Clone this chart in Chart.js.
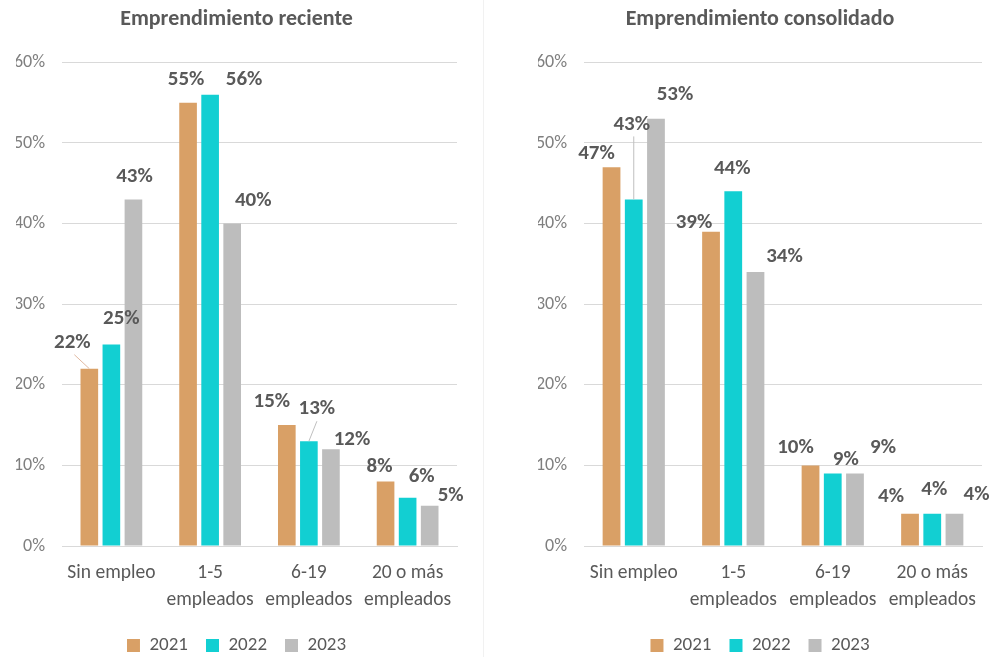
<!DOCTYPE html>
<html>
<head>
<meta charset="utf-8">
<script src="https://cdn.jsdelivr.net/npm/chart.js@4"></script>
<style>
  body { margin: 0; background: #fff; }
  .wrap { position: relative; width: 992px; height: 657px; }
  .box { position: absolute; top: 0; height: 657px; }
  #left { left: 0; width: 483px; }
  #right { left: 522px; width: 470px; }
  .sep { position: absolute; left: 483px; top: 0; width: 1px; height: 657px; background: #f1f1f1; }
</style>
</head>
<body>
<div class="wrap">
  <div class="box" id="left"><canvas id="chartLeft"></canvas></div>
  <div class="sep"></div>
  <div class="box" id="right"><canvas id="chartRight"></canvas></div>
</div>
<script>
// categories and series
var categories = ['Sin empleo', ['1-5', 'empleados'], ['6-19', 'empleados'], ['20 o más', 'empleados']];
var years = ['2021', '2022', '2023'];
var yTicks = [0, 10, 20, 30, 40, 50, 60];

var reciente2021 = [22, 55, 15, 8];
var reciente2022 = [25, 56, 13, 6];
var reciente2023 = [43, 40, 12, 5];

var consolidado2021 = [47, 39, 10, 4];
var consolidado2022 = [43, 44, 9, 4];
var consolidado2023 = [53, 34, 9, 4];

var colors = ['#D9A066', '#12CFD2', '#BDBDBD'];
var font = 'Carlito, Lato, sans-serif';

// label nudges [dx, dy, leader] relative to bar top, per series / category
var nudgeLeft = [
  [[-17, -26, 1], [-2, -23], [-15, -23], [-6, -15]],
  [[10, -26], [34, -15], [8, -32, 1], [14, -21]],
  [[1, -23], [21, -23], [21, -10], [21, -10]]
];
var nudgeRight = [
  [[-15, -13], [-17, -9], [-15, -18], [-19, -17]],
  [[-2, -75, 1], [-1, -23], [13, -14], [2, -24]],
  [[19, -24], [29, -15], [28, -26], [22, -19]]
];

var labelPlugin = {
  id: 'barLabels',
  afterDatasetsDraw: function (chart, args, opts) {
    var ctx = chart.ctx;
    ctx.save();
    ctx.font = 'bold 21px ' + font;
    ctx.fillStyle = '#595959';
    ctx.textAlign = 'center';
    ctx.textBaseline = 'middle';
    chart.data.datasets.forEach(function (ds, si) {
      var meta = chart.getDatasetMeta(si);
      meta.data.forEach(function (bar, i) {
        var n = opts.nudge[si][i];
        var lx = bar.x + n[0], ly = bar.y + n[1];
        if (n[2]) {
          ctx.strokeStyle = si === 0 ? '#E0B8A0' : '#BFBFBF';
          ctx.lineWidth = 1;
          ctx.beginPath();
          ctx.moveTo(lx + (bar.x > lx ? 2 : 0), ly + 12);
          ctx.lineTo(bar.x, bar.y);
          ctx.stroke();
        }
        ctx.fillText(ds.data[i] + '%', lx, ly);
      });
    });
    ctx.restore();
  }
};

function makeChart(id, title, s1, s2, s3, nudge, padLeft, padRight) {
  var ctx = document.getElementById(id).getContext('2d');
  return new Chart(ctx, {
    type: 'bar',
    data: {
      labels: categories,
      datasets: [
        { label: years[0], data: s1, backgroundColor: colors[0] },
        { label: years[1], data: s2, backgroundColor: colors[1] },
        { label: years[2], data: s3, backgroundColor: colors[2] }
      ]
    },
    plugins: [labelPlugin],
    options: {
      responsive: true,
      maintainAspectRatio: false,
      animation: false,
      datasets: { bar: { categoryPercentage: 0.67, barPercentage: 0.8 } },
      layout: { padding: { left: padLeft, right: padRight, top: 0, bottom: -8 } },
      plugins: {
        title: {
          display: true,
          text: title,
          color: '#595959',
          font: { family: font, size: 22, weight: 'bold' },
          padding: { top: 6, bottom: 30 }
        },
        legend: {
          position: 'bottom',
          labels: {
            color: '#595959',
            font: { family: font, size: 19 },
            boxWidth: 13,
            boxHeight: 13,
            padding: 18
          }
        },
        tooltip: { enabled: false },
        barLabels: { nudge: nudge }
      },
      scales: {
        y: {
          min: 0,
          max: 60,
          afterFit: function (scale) { scale.width = 62 - padLeft; },
          afterBuildTicks: function (scale) {
            scale.ticks = yTicks.map(function (v) { return { value: v }; });
          },
          ticks: {
            color: '#7F7F7F',
            font: { family: font, size: 18 },
            padding: 17,
            callback: function (v) { return v + '%'; }
          },
          grid: { color: '#D9D9D9', drawTicks: false },
          border: { display: false }
        },
        x: {
          afterFit: function (scale) { scale.height = 72; },
          grid: { display: false },
          border: { color: '#D9D9D9' },
          ticks: {
            color: '#595959',
            font: { family: font, size: 19.5, lineHeight: 1.4 },
            padding: 5,
            maxRotation: 0
          }
        }
      }
    }
  });
}

makeChart('chartLeft', 'Emprendimiento reciente', reciente2021, reciente2022, reciente2023, nudgeLeft, 16, 26);
makeChart('chartRight', 'Emprendimiento consolidado', consolidado2021, consolidado2022, consolidado2023, nudgeRight, 16, 10);
</script>
</body>
</html>
